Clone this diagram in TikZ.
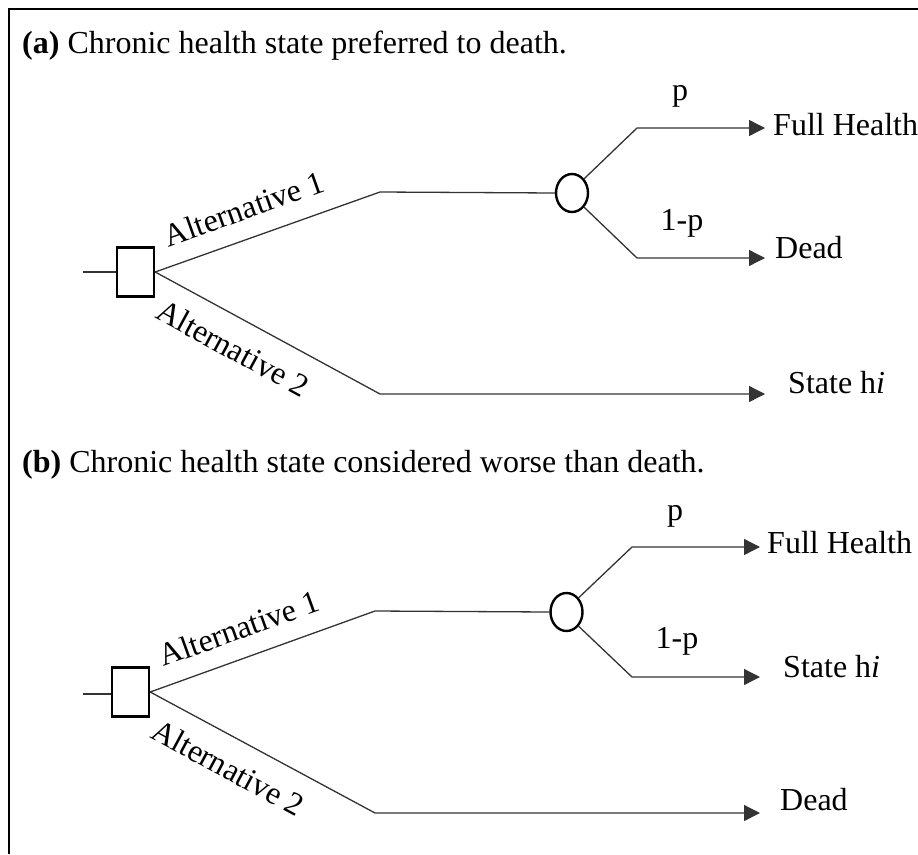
\documentclass[tikz,border=0pt]{standalone}
\usepackage{fontspec}
\setmainfont{Liberation Serif}
\usetikzlibrary{arrows.meta,shapes.geometric}
\begin{document}
\begin{tikzpicture}[x=1pt,y=-1pt,
  every node/.style={font=\fontsize{32}{38}\selectfont},
  branch/.style={draw=black!80, line width=1.3pt},
  arr/.style={branch, -{Triangle[length=16pt,width=16pt]}},
  decision/.style={draw, line width=2.4pt, minimum width=37pt, minimum height=49pt, inner sep=0pt},
  chance/.style={draw, ellipse, line width=2.4pt, minimum width=32pt, minimum height=38pt, inner sep=0pt},
  altlab/.style={sloped, inner sep=2pt},
  outcome/.style={anchor=base west, inner ysep=0pt},
  problab/.style={anchor=base, inner sep=0pt},
  title/.style={anchor=base west, inner sep=0pt}
]
\useasboundingbox (0,0) rectangle (918,854);
\draw[line width=2.6pt] (9,854) -- (9,9) -- (918,9);

% ---------- panel (a)
\node[title] (ta) at (22,53) {\textbf{(a)} Chronic health state preferred to death.};
\node[decision] (da) at (135.5,272) {};
\coordinate (ina) at (83,272);
\draw[branch] (ina) -- (da.west);
\coordinate (a1a) at (380,192);
\coordinate (a2a) at (380,394);
\node[chance] (ca) at (572,193) {};
\node[outcome, inner xsep=8pt] (fha) at (765,135) {Full Health};
\node[outcome, inner xsep=10pt] (dea) at (765,258) {Dead};
\node[outcome, inner xsep=23pt] (sha) at (765,393) {State h\textit{i}};
\node[problab] (pa) at (680,100) {p};
\node[problab] (qa) at (682,230) {1-p};
\draw[branch] (da.east) -- node[altlab, above=16pt, pos=0.44] {Alternative 1} (a1a) -- (ca.west);
\draw[arr] (da.east) -- node[altlab, below=16pt, pos=0.41] {Alternative 2} (a2a) -- (a2a -| sha.west);
\coordinate (ua) at (637,128);
\coordinate (la) at (637,258);
\draw[arr] (ca.north east) -- (ua) -- (ua -| fha.west);
\draw[arr] (ca.south east) -- (la) -- (la -| dea.west);

% ---------- panel (b)
\node[title] (tb) at (22,472) {\textbf{(b)} Chronic health state considered worse than death.};
\node[decision] (db) at (130.5,692) {};
\coordinate (inb) at (83,694);
\draw[branch] (inb) -- (inb -| db.west);
\coordinate (a1b) at (375,611);
\coordinate (a2b) at (375,813);
\node[chance] (cb) at (566.5,612) {};
\node[outcome, inner xsep=7pt] (fhb) at (760,553) {Full Health};
\node[outcome, inner xsep=23pt] (shb) at (760,677) {State h\textit{i}};
\node[outcome, inner xsep=20pt] (deb) at (760,810) {Dead};
\node[problab] (pb) at (675,520) {p};
\node[problab] (qb) at (677,648) {1-p};
\draw[branch] (db.east) -- node[altlab, above=16pt, pos=0.44] {Alternative 1} (a1b) -- (cb.west);
\draw[arr] (db.east) -- node[altlab, below=16pt, pos=0.41] {Alternative 2} (a2b) -- (a2b -| deb.west);
\coordinate (ub) at (632,547);
\coordinate (lb) at (632,677);
\draw[arr] (cb.north east) -- (ub) -- (ub -| fhb.west);
\draw[arr] (cb.south east) -- (lb) -- (lb -| shb.west);
\end{tikzpicture}
\end{document}
